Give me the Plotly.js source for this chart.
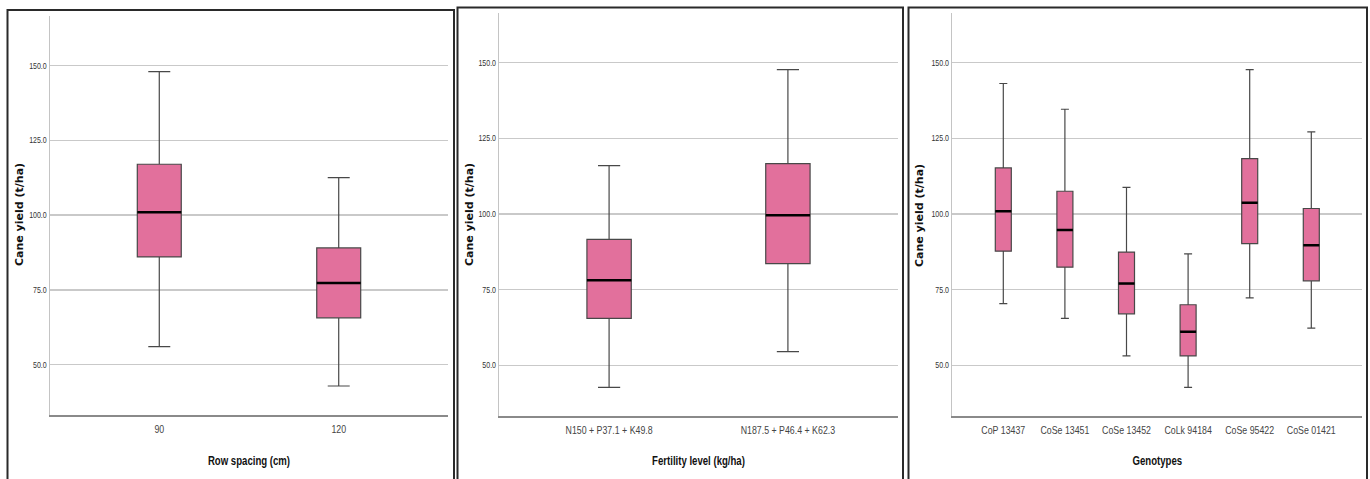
<!DOCTYPE html>
<html>
<head>
<meta charset="utf-8">
<script src="https://cdn.plot.ly/plotly-3.0.1.min.js"></script>
<style>html,body{margin:0;padding:0;background:#fff;}#chart{width:1370px;height:479px;}</style>
</head>
<body>
<div id="chart"></div>
<script>
// Panel 1: Row spacing
const rowCats = ["90", "120"];
const rowLow = [56.0, 42.8];
const rowQ1 = [86.0, 65.6];
const rowMed = [100.9, 77.3];
const rowQ3 = [117.0, 89.0];
const rowHigh = [148.0, 112.5];

// Panel 2: Fertility level
const fertCats = ["N150 + P37.1 + K49.8", "N187.5 + P46.4 + K62.3"];
const fertLow = [42.7, 54.5];
const fertQ1 = [65.5, 83.6];
const fertMed = [78.1, 99.6];
const fertQ3 = [91.6, 116.6];
const fertHigh = [116.0, 147.7];

// Panel 3: Genotypes
const genoCats = ["CoP 13437", "CoSe 13451", "CoSe 13452", "CoLk 94184", "CoSe 95422", "CoSe 01421"];
const genoLow = [70.4, 65.5, 53.1, 42.7, 72.3, 62.3];
const genoQ1 = [87.7, 82.4, 67.0, 53.1, 90.2, 77.9];
const genoMed = [100.9, 94.7, 77.0, 61.1, 103.7, 89.7];
const genoQ3 = [115.2, 107.5, 87.4, 70.0, 118.3, 101.8];
const genoHigh = [143.1, 134.6, 108.8, 86.8, 147.7, 127.1];

const yTicks = [50, 75, 100, 125, 150];
const yTickText = ["50.0", "75.0", "100.0", "125.0", "150.0"];

const W = 1370, H = 479;
const FILL = "#E2709C";
const NARROW = "Liberation Sans Narrow, Liberation Sans, Arial Narrow, sans-serif";

function boxTrace(cats, low, q1, med, q3, high, xa, ya, w) {
  return {
    type: "box", x: cats, q1: q1, median: med, q3: q3,
    lowerfence: low, upperfence: high,
    xaxis: xa, yaxis: ya, width: w, whiskerwidth: 0.5,
    fillcolor: FILL, line: {color: "#484848", width: 1.2},
    boxpoints: false, hoverinfo: "y", showlegend: false
  };
}

const data = [
  boxTrace(rowCats, rowLow, rowQ1, rowMed, rowQ3, rowHigh, "x", "y", 0.245),
  boxTrace(fertCats, fertLow, fertQ1, fertMed, fertQ3, fertHigh, "x2", "y2", 0.248),
  boxTrace(genoCats, genoLow, genoQ1, genoMed, genoQ3, genoHigh, "x3", "y3", 0.26)
];

const shapes = [];
function medians(med, xref, yref, w) {
  med.forEach((m, i) => {
    shapes.push({type: "line", xref: xref, yref: yref, x0: i - w / 2, x1: i + w / 2, y0: m, y1: m,
      line: {color: "#000", width: 2.5}});
  });
}
medians(rowMed, "x", "y", 0.245);
medians(fertMed, "x2", "y2", 0.248);
medians(genoMed, "x3", "y3", 0.26);

// panel frames
function frame(x0, x1, top) {
  shapes.push({type: "rect", xref: "paper", yref: "paper", x0: x0 / W, x1: x1 / W, y0: -0.02, y1: (H - top) / H,
    line: {color: "#2a2a2a", width: 2}, fillcolor: "rgba(0,0,0,0)"});
}
frame(7.5, 454, 10);
frame(457.5, 903, 7.5);
frame(908.5, 1367, 7.5);

function xax(x0, x1, range, yanchor, title) {
  return {
    domain: [x0 / W, x1 / W], anchor: yanchor, type: "category", range: range,
    showline: true, linecolor: "#8a8a8a", linewidth: 2, showgrid: false, zeroline: false,
    ticks: "", ticklabelstandoff: 3, tickangle: 0,
    tickfont: {family: NARROW, size: 11, color: "#444"},
    title: {text: title, font: {family: NARROW, size: 12, color: "#111", weight: "bold"}, standoff: 22},
    automargin: false, fixedrange: true
  };
}
function yax(top, bottom, range, xanchor) {
  return {
    domain: [(H - bottom) / H, (H - top) / H], anchor: xanchor, range: range,
    tickmode: "array", tickvals: yTicks, ticktext: yTickText,
    showline: true, linecolor: "#c4c4c4", linewidth: 1.5,
    showgrid: true, gridcolor: "#c9c9c9", gridwidth: 1.5, zeroline: false, ticks: "",
    tickfont: {family: NARROW, size: 9, color: "#333"},
    automargin: false, fixedrange: true
  };
}

const yTitleFont = {family: "DejaVu Sans, Verdana, sans-serif", size: 11, color: "#111", weight: "bold"};
function yTitle(xpx) {
  return {text: "Cane yield (t/ha)", xref: "paper", yref: "paper", x: xpx / W, y: (H - 215) / H,
    xanchor: "center", yanchor: "middle", textangle: -90, showarrow: false, font: yTitleFont};
}

const layout = {
  width: W, height: H,
  margin: {l: 0, r: 0, t: 0, b: 0},
  paper_bgcolor: "#fff", plot_bgcolor: "#fff",
  showlegend: false,
  xaxis: xax(50, 448, [-0.609, 1.609], "y", "Row spacing (cm)"),
  yaxis: yax(16, 415, [33.1, 166.6], "x"),
  xaxis2: xax(499.3, 897.7, [-0.614, 1.614], "y2", "Fertility level (kg/ha)"),
  yaxis2: yax(13.3, 415.7, [33.34, 166.3], "x2"),
  xaxis3: xax(952.3, 1362.3, [-0.828, 5.828], "y3", "Genotypes"),
  yaxis3: yax(13.3, 415.7, [33.34, 166.3], "x3"),
  annotations: [yTitle(20), yTitle(470), yTitle(920)],
  shapes: shapes
};

// Condense narrow-style texts (the original uses an Arial Narrow–like face)
function condense(gd, selector, factor) {
  gd.querySelectorAll(selector).forEach(t => {
    try {
      const w = t.getComputedTextLength();
      if (w > 0) {
        t.setAttribute("textLength", (w * factor).toFixed(2));
        t.setAttribute("lengthAdjust", "spacingAndGlyphs");
      }
    } catch (e) {}
  });
}

Plotly.newPlot("chart", data, layout, {displayModeBar: false, staticPlot: true}).then(gd => {
  condense(gd, ".xtick text, .x2tick text, .x3tick text", 0.80);
  condense(gd, ".ytick text, .y2tick text, .y3tick text", 0.78);
  condense(gd, ".xtitle, .x2title, .x3title", 0.80);
});
</script>
</body>
</html>
